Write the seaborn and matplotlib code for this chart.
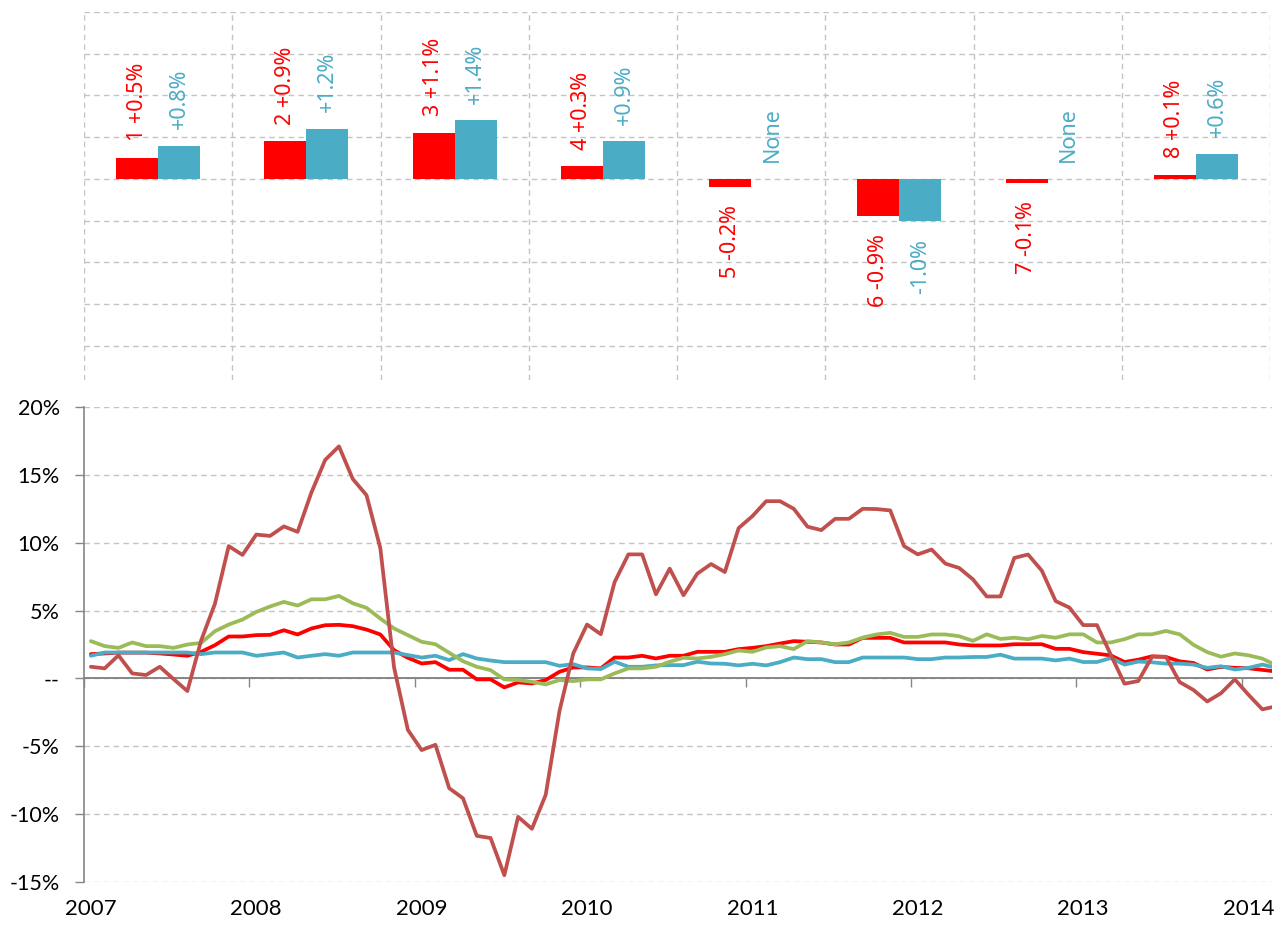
import numpy as np
import pandas as pd
import matplotlib
matplotlib.use("Agg")
import matplotlib.pyplot as plt
import seaborn as sns

# ---------------- data ----------------
groups = ["1", "2", "3", "4", "5", "6", "7", "8"]
red_change = [0.5, 0.9, 1.1, 0.3, -0.2, -0.9, -0.1, 0.1]
teal_change = [0.8, 1.2, 1.4, 0.9, None, -1.0, None, 0.6]

years = ["2007", "2008", "2009", "2010", "2011", "2012", "2013", "2014"]
ytick_vals = [-15, -10, -5, 0, 5, 10, 15, 20]
ytick_labels = ["-15%", "-10%", "-5%", "--", "5%", "10%", "15%", "20%"]

brown = [0.86, 0.74, 1.7, 0.37, 0.25, 0.86, -0.05, -0.93, 2.8, 5.5, 9.75, 9.1,
         10.6, 10.5, 11.2, 10.8, 13.7, 16.1, 17.1, 14.7, 13.5, 9.6, 0.8, -3.79,
         -5.28, -4.89, -8.09, -8.83, -11.6, -11.76, -14.5, -10.2, -11.08, -8.58, -2.4, 1.84,
         3.97, 3.26, 7.1, 9.14, 9.14, 6.2, 8.09, 6.13, 7.72, 8.43, 7.84, 11.08,
         11.96, 13.06, 13.06, 12.5, 11.18, 10.93, 11.76, 11.76, 12.5, 12.48, 12.38, 9.75,
         9.14, 9.5, 8.46, 8.14, 7.3, 6.04, 6.04, 8.88, 9.13, 7.94, 5.7, 5.22,
         3.93, 3.93, 1.75, -0.39, -0.19, 1.6, 1.6, -0.27, -0.85, -1.7, -1.09, -0.07,
         -1.21, -2.28, -2.05]
green = [2.75, 2.38, 2.25, 2.65, 2.38, 2.38, 2.25, 2.5, 2.62, 3.48, 3.97, 4.34,
         4.9, 5.3, 5.64, 5.37, 5.83, 5.83, 6.08, 5.54, 5.2, 4.41, 3.68, 3.19,
         2.7, 2.52, 1.89, 1.27, 0.86, 0.61, -0.07, -0.12, -0.25, -0.44, -0.12, -0.2,
         -0.07, -0.07, 0.37, 0.74, 0.74, 0.86, 1.23, 1.52, 1.47, 1.59, 1.79, 2.06,
         1.96, 2.28, 2.38, 2.16, 2.75, 2.65, 2.52, 2.65, 3.01, 3.24, 3.36, 3.06,
         3.06, 3.24, 3.24, 3.11, 2.77, 3.25, 2.91, 3.0, 2.89, 3.13, 3.0, 3.25,
         3.25, 2.65, 2.65, 2.89, 3.25, 3.25, 3.5, 3.25, 2.48, 1.94, 1.6, 1.84,
         1.7, 1.46, 0.97]
red = [1.79, 1.84, 1.9, 1.9, 1.9, 1.84, 1.76, 1.67, 1.96, 2.45, 3.09, 3.09,
       3.19, 3.21, 3.55, 3.24, 3.68, 3.92, 3.95, 3.85, 3.6, 3.24, 2.08, 1.52,
       1.1, 1.2, 0.64, 0.64, -0.07, -0.07, -0.66, -0.29, -0.37, -0.12, 0.49, 0.81,
       0.81, 0.74, 1.54, 1.54, 1.67, 1.47, 1.67, 1.67, 1.96, 1.96, 1.96, 2.16,
       2.25, 2.38, 2.57, 2.75, 2.7, 2.65, 2.5, 2.5, 2.99, 2.99, 2.99, 2.65,
       2.65, 2.65, 2.65, 2.5, 2.43, 2.43, 2.43, 2.52, 2.52, 2.52, 2.18, 2.18,
       1.94, 1.82, 1.7, 1.21, 1.38, 1.63, 1.58, 1.26, 1.14, 0.66, 0.85, 0.78,
       0.75, 0.63, 0.51]
teal = [1.67, 1.91, 1.91, 1.91, 1.91, 1.91, 1.91, 1.91, 1.79, 1.91, 1.91, 1.91,
        1.67, 1.79, 1.91, 1.54, 1.67, 1.79, 1.67, 1.91, 1.91, 1.91, 1.91, 1.72,
        1.54, 1.67, 1.35, 1.79, 1.47, 1.32, 1.2, 1.2, 1.2, 1.2, 0.93, 1.05,
        0.74, 0.69, 1.23, 0.86, 0.86, 0.96, 0.98, 0.98, 1.23, 1.1, 1.08, 0.96,
        1.08, 0.96, 1.2, 1.54, 1.42, 1.42, 1.2, 1.2, 1.54, 1.54, 1.54, 1.54,
        1.42, 1.42, 1.54, 1.54, 1.58, 1.58, 1.75, 1.46, 1.46, 1.46, 1.33, 1.46,
        1.21, 1.21, 1.5, 1.02, 1.24, 1.19, 1.09, 1.09, 1.02, 0.78, 0.9, 0.66,
        0.78, 1.02, 0.78]

C_RED = "#FF0000"
C_TEAL = "#4BACC6"
C_BROWN = "#C0504D"
C_GREEN = "#9BBB59"
GRID = "#C4C4C4"
AXIS = "#868686"

# ---------------- figure ----------------
sns.set_theme(style="white")
plt.rcParams["font.family"] = ["DejaVu Sans"]

W, H = 1274, 925
fig = plt.figure(figsize=(W / 100, H / 100), dpi=100)
ax_top = fig.add_axes([84 / W, 1 - 380 / H, (1270 - 84) / W, 368 / H])
ax_bot = fig.add_axes([84 / W, 1 - 882 / H, (1272 - 84) / W, 475 / H])

# ---------------- top bars ----------------
bar_df = pd.DataFrame({
    "group": groups * 2,
    "series": ["a"] * len(groups) + ["b"] * len(groups),
    "value": [np.nan if v is None else v for v in red_change + teal_change],
})
BW = 0.567
sns.barplot(data=bar_df, x="group", y="value", hue="series", order=groups,
            hue_order=["a", "b"], palette={"a": C_RED, "b": C_TEAL},
            width=BW, errorbar=None, saturation=1, legend=False, ax=ax_top,
            linewidth=0, zorder=3)

off = BW / 4
for i, g in enumerate(groups):
    for val, dx, col, prefix in ((red_change[i], -off, C_RED, g + " "),
                                 (teal_change[i], off, C_TEAL, "")):
        if val is None:
            txt, y0, neg = "None", 0.0, False
        else:
            txt = f"{prefix}{val:+.1f}%"
            y0, neg = val, val < 0
        ax_top.annotate(txt, xy=(i + dx, y0), xytext=(0, -13 if neg else 12),
                        textcoords="offset points", rotation=90,
                        ha="center", va="top" if neg else "bottom",
                        color=col, fontsize=15.5, family="Noto Sans")

ax_top.set_xlim(-0.5, 7.5)
ax_top.set_ylim(-4.82, 4.0)
ax_top.set_xticks(np.arange(-0.5, 8, 1))
ax_top.set_yticks(range(-4, 5))
ax_top.set_xticklabels([])
ax_top.set_yticklabels([])
ax_top.set_xlabel("")
ax_top.set_ylabel("")
ax_top.tick_params(length=0)
ax_top.grid(True, color=GRID, linestyle=(0, (4, 3)), linewidth=1.0, zorder=0)
ax_top.set_axisbelow(True)
for s in ax_top.spines.values():
    s.set_visible(False)

# ---------------- bottom lines ----------------
idx = np.arange(len(brown))
for vals, col in ((red, C_RED), (teal, C_TEAL), (green, C_GREEN), (brown, C_BROWN)):
    sns.lineplot(x=idx, y=vals, color=col, linewidth=2.7, ax=ax_bot, zorder=3)

ax_bot.set_xlim(-0.5, 85.7)
ax_bot.set_ylim(-15, 20)
ax_bot.set_yticks(ytick_vals)
ax_bot.set_yticklabels(ytick_labels)
ax_bot.set_xticks(np.arange(-0.5, 86, 12))
ax_bot.set_xticklabels([])
ax_bot.set_xlabel("")
ax_bot.set_ylabel("")
ax_bot.grid(True, axis="y", color=GRID, linestyle=(0, (4, 3)), linewidth=1.0, zorder=0)
ax_bot.set_axisbelow(True)
for s in ("top", "right"):
    ax_bot.spines[s].set_visible(False)
ax_bot.spines["left"].set_color(AXIS)
ax_bot.spines["bottom"].set_color(AXIS)
ax_bot.spines["left"].set_linewidth(1.2)
ax_bot.spines["bottom"].set_linewidth(1.4)
ax_bot.spines["bottom"].set_position(("data", 0))
ax_bot.tick_params(axis="both", direction="out", length=6.5, width=1.0,
                   color=AXIS, bottom=True, left=True)
ax_bot.tick_params(axis="y", labelsize=15.5, pad=11, labelcolor="black")
for lab in ax_bot.get_yticklabels():
    lab.set_fontfamily("Lato")

for k, yr in enumerate(years):
    ax_bot.annotate(yr, xy=(12 * k, 0), xycoords=ax_bot.get_xaxis_transform(),
                    xytext=(0, -12), textcoords="offset points",
                    ha="center", va="top", fontsize=16, family="Lato", color="black")

fig.savefig("out.png", dpi=100)
